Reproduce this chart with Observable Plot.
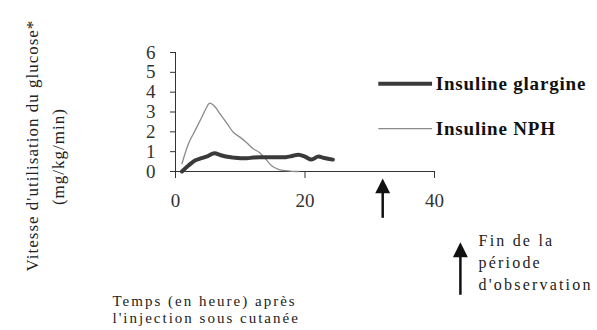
<!DOCTYPE html>
<html>
<head>
<meta charset="utf-8">
<script src="https://cdn.jsdelivr.net/npm/d3@7"></script>
<script src="https://cdn.jsdelivr.net/npm/@observablehq/plot@0.6"></script>
<style>
  html, body { margin: 0; padding: 0; background: #fff; }
  #chart svg { display: block; }
  .ylab text { letter-spacing: 1px; }
  .xlab text { letter-spacing: 2px; }
  .note text { letter-spacing: 2.2px; }
  .leg text { letter-spacing: 0.8px; }
</style>
</head>
<body>
<div id="chart"></div>
<script>
// ---- data ----
const nphHours = [1, 2, 3, 4, 5, 5.3, 6, 7, 8, 9, 10, 11, 12, 13, 14, 15, 16, 17, 18, 19];
const nphValues = [0.39, 1.4, 2.05, 2.7, 3.35, 3.45, 3.3, 2.85, 2.4, 1.95, 1.72, 1.45, 1.15, 0.95, 0.6, 0.25, 0.1, 0.04, 0.01, 0];
const glargineHours = [1, 2, 3, 4, 5, 6, 7, 8, 9, 10, 11, 12, 13, 14, 15, 16, 17, 18, 19, 20, 21, 22, 23, 24.3];
const glargineValues = [0, 0.3, 0.55, 0.67, 0.78, 0.92, 0.82, 0.74, 0.7, 0.67, 0.67, 0.7, 0.72, 0.72, 0.72, 0.72, 0.72, 0.78, 0.85, 0.75, 0.6, 0.75, 0.68, 0.6];
const seriesNames = ["Insuline glargine", "Insuline NPH"];
const xTicks = [0, 20, 40];
const yTicks = [0, 1, 2, 3, 4, 5, 6];
const endOfObservationHour = [32];
const yLabelLines = ["Vitesse d'utilisation du glucose*", "(mg/kg/min)"];
const xLabelText = ["Temps (en heure) après\nl'injection sous cutanée"];
const noteText = ["Fin de la\npériode\nd'observation"];

const glargine = glargineHours.map((h, i) => ({hour: h, value: glargineValues[i]}));
const nph = nphHours.map((h, i) => ({hour: h, value: nphValues[i]}));
const seriesStyle = {
  "Insuline glargine": {stroke: "#3a3a3a", width: 4},
  "Insuline NPH": {stroke: "#8a8a8a", width: 1.3}
};
const legendRows = seriesNames.map((name, i) => ({name, x1: 31.4, x2: 39.7, y: i === 0 ? 4.43 : 2.16}));

// arrowhead symbol with the tip at the origin
const arrowHead = {
  draw(context, size) {
    const k = Math.sqrt(size / Math.PI) * 1.35;
    context.moveTo(0, 0);
    context.lineTo(-k, 2 * k);
    context.lineTo(k, 2 * k);
    context.closePath();
  }
};
const arrows = [
  {x: endOfObservationHour[0], tip: -0.35, bottom: -2.36},
  {x: 44.0, tip: -3.57, bottom: -6.24}
];

const font = "Liberation Serif, Times New Roman, serif";

const chart = Plot.plot({
  width: 597,
  height: 330,
  marginLeft: 175,
  marginRight: 163,
  marginTop: 52,
  marginBottom: 159,
  style: {fontFamily: font, fontSize: "19px", color: "#222", background: "#fff"},
  x: {domain: [0, 40]},
  y: {domain: [0, 6]},
  marks: [
    Plot.axisY({ticks: yTicks, tickFormat: d3.format("d"), tickSize: 5, tickPadding: 15, fontSize: 19, fontFamily: font, label: null, color: "#333"}),
    Plot.axisX({ticks: xTicks, tickFormat: d3.format("d"), tickSize: 7, tickPadding: 15, fontSize: 19, fontFamily: font, label: null, color: "#333"}),
    Plot.ruleX([0], {y1: 0, y2: 6, stroke: "#333"}),
    Plot.ruleY([0], {x1: 0, x2: 40, stroke: "#333"}),
    Plot.line(nph, {x: "hour", y: "value", stroke: seriesStyle["Insuline NPH"].stroke, strokeWidth: seriesStyle["Insuline NPH"].width, curve: "catmull-rom"}),
    Plot.line(glargine, {x: "hour", y: "value", stroke: seriesStyle["Insuline glargine"].stroke, strokeWidth: seriesStyle["Insuline glargine"].width, curve: "catmull-rom"}),
    // legend
    Plot.ruleY(legendRows, {x1: "x1", x2: "x2", y: "y", stroke: d => seriesStyle[d.name].stroke, strokeWidth: d => seriesStyle[d.name].width}),
    Plot.text(legendRows, {x: 40.2, y: "y", text: "name", textAnchor: "start", fontSize: 19, fontWeight: "bold", fontFamily: font, fill: "#111", className: "leg"}),
    // arrows
    Plot.ruleX(arrows, {x: "x", y1: d => d.tip - 0.6, y2: "bottom", stroke: "#111", strokeWidth: 2.5}),
    Plot.dot(arrows, {x: "x", y: "tip", symbol: arrowHead, r: 5.5, fill: "#111", stroke: "none"}),
    // texts
    Plot.text([yLabelLines[0]], {x: -22.1, y: 1.31, text: d => d, rotate: -90, fontSize: 17, fontFamily: font, fill: "#222", className: "ylab"}),
    Plot.text([yLabelLines[1]], {x: -18.1, y: 0.75, text: d => d, rotate: -90, fontSize: 17, fontFamily: font, fill: "#222", className: "ylab"}),
    Plot.text(xLabelText, {x: -9.73, y: -6.92, text: d => d, textAnchor: "start", lineHeight: 1.13, fontSize: 15, fontFamily: font, fill: "#222", className: "xlab"}),
    Plot.text(noteText, {x: 46.8, y: -4.5, text: d => d, textAnchor: "start", lineHeight: 1.4, fontSize: 16, fontFamily: font, fill: "#222", className: "note"})
  ]
});
document.getElementById("chart").appendChild(chart);
</script>
</body>
</html>
